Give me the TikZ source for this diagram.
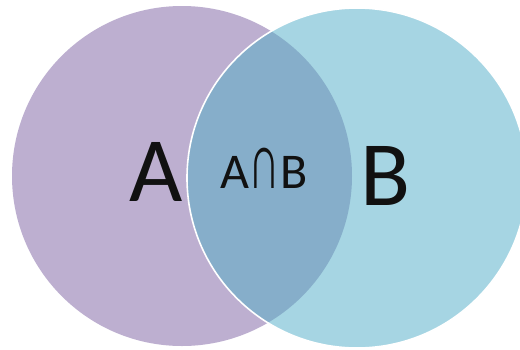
\documentclass[tikz,border=0pt]{standalone}
\usepackage{fontspec}
\setmainfont{Carlito}
\usepackage{xcolor}
\usepackage{graphicx}
\definecolor{SetA}{HTML}{BDAFD0}
\definecolor{SetB}{HTML}{A6D5E3}
\definecolor{SetAB}{HTML}{86AECA}
\definecolor{Ink}{HTML}{111111}

\begin{document}
\begin{tikzpicture}[x=1pt,y=-1pt,every node/.style={text=Ink,inner sep=0pt}]
\useasboundingbox (0,0) rectangle (520,349);
\fill[white] (0,0) rectangle (520,349);
\fill[SetA] (182,176) circle (170);
\fill[SetB] (357,178) circle (170);
\begin{scope}
\clip (182,176) circle (170);
\fill[SetAB] (357,178) circle (170);
\end{scope}
\draw[white,line width=1.6pt] (357,178) circle (170);
\node (labA) at (156,172) {\fontsize{92}{92}\selectfont A};
\node (labB) at (386,176) {\fontsize{92}{92}\selectfont B};
\node (labAB) at (264,168) {\fontsize{50}{50}\selectfont A\kern1pt\scalebox{0.85}[1.55]{∩}\kern1pt B};
\end{tikzpicture}
\end{document}
